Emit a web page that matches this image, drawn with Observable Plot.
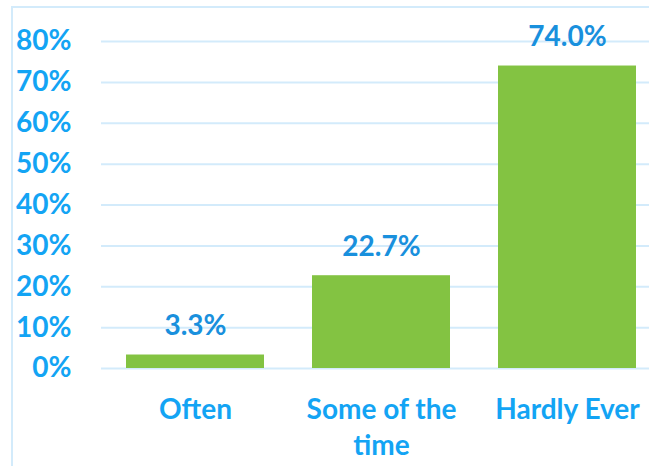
<!DOCTYPE html>
<html>
<head>
<meta charset="utf-8">
<script src="https://cdn.jsdelivr.net/npm/d3@7"></script>
<script src="https://cdn.jsdelivr.net/npm/@observablehq/plot@0.6"></script>
<style>
  html, body { margin: 0; padding: 0; background: #fff; overflow: hidden; }
  #wrap { position: relative; width: 649px; height: 466px; }
  #frame { position: absolute; left: 11px; top: 6px; width: 700px; height: 520px; border: 2px solid #d3ebfb; box-sizing: border-box; }
  #chart { position: absolute; left: 0; top: 0; }
</style>
</head>
<body>
<div id="wrap"><div id="frame"></div><div id="chart"></div></div>
<script>
const categories = ["Often", "Some of the time", "Hardly Ever"];
const xTickLabels = ["Often", "Some of the\ntime", "Hardly Ever"];
const values = [0.033, 0.227, 0.740];
const valueLabels = ["3.3%", "22.7%", "74.0%"];
const yTicks = [0, 0.1, 0.2, 0.3, 0.4, 0.5, 0.6, 0.7, 0.8];

const data = categories.map((c, i) => ({cat: c, value: values[i], label: valueLabels[i], tick: xTickLabels[i]}));
const tickMap = new Map(data.map(d => [d.cat, d.tick]));

const font = "Lato, 'Open Sans', sans-serif";
const chart = Plot.plot({
  width: 649,
  height: 466,
  marginLeft: 101,
  marginRight: -12,
  marginTop: 41,
  marginBottom: 98,
  style: {fontFamily: font, fontWeight: "bold", background: "transparent", overflow: "visible"},
  x: {domain: categories, paddingInner: 0.26, paddingOuter: 0.13, range: [101, 660.5], label: null},
  y: {domain: [0, 0.8], label: null},
  marks: [
    Plot.gridY(yTicks, {stroke: "#d3ebfb", strokeOpacity: 1, strokeWidth: 2}),
    Plot.barY(data, {x: "cat", y: "value", fill: "#83c342"}),
    Plot.text(data, {x: "cat", y: "value", text: "label", dy: -29, fill: "#1990dd", fontSize: 28, fontWeight: "bold"}),
    Plot.axisY(yTicks, {tickSize: 0, tickPadding: 30, tickFormat: d => Math.round(d * 100) + "%", fontSize: 28, fontWeight: "bold", fill: "#13a4f4", label: null}),
    Plot.axisX({tickSize: 0, tickPadding: 25, tickFormat: d => tickMap.get(d), fontSize: 28, fontWeight: "bold", fill: "#13a4f4", lineHeight: 1.28, label: null})
  ]
});
document.getElementById("chart").appendChild(chart);
</script>
</body>
</html>
